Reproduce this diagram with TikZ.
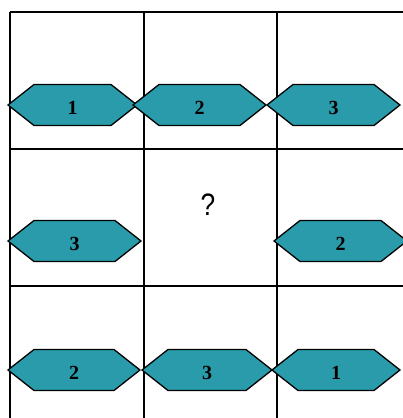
\documentclass[tikz,border=0pt]{standalone}
\usepackage{fontspec}
\setmainfont{Liberation Serif}
\newfontfamily\qfont{Liberation Sans}
\definecolor{hexfill}{RGB}{42,155,170}
\tikzset{
  gridline/.style={line width=2pt,black},
  hexbox/.style={draw=black,line width=1.3pt,fill=hexfill,line join=miter},
  digit/.style={inner sep=0pt,font=\fontsize{20}{20}\selectfont\bfseries},
}
\newcommand\hexcell[5]{%
  \draw[hexbox] (#2,#4) -- (#2+26,#4-20.5) -- (#3-26,#4-20.5) -- (#3,#4) -- (#3-26,#4+20.5) -- (#2+26,#4+20.5) -- cycle;
  \node[digit] (#1) at ({(#2+#3)/2},#4+2.5) {#5};}
\begin{document}
\begin{tikzpicture}[x=1pt,y=-1pt]
\useasboundingbox (0,0) rectangle (403,418);
% grid
\coordinate (v1t) at (10,12);  \coordinate (v1b) at (10,420);
\coordinate (v2t) at (144,12); \coordinate (v2b) at (144,420);
\coordinate (v3t) at (277,12); \coordinate (v3b) at (277,420);
\coordinate (h1l) at (10,12);  \coordinate (h1r) at (405,12);
\coordinate (h2l) at (10,149); \coordinate (h2r) at (405,149);
\coordinate (h3l) at (10,286); \coordinate (h3r) at (405,286);
\draw[gridline] (v1t) -- (v1b);
\draw[gridline] (v2t) -- (v2b);
\draw[gridline] (v3t) -- (v3b);
\draw[gridline] (h1l) -- (h1r);
\draw[gridline] (h2l) -- (h2r);
\draw[gridline] (h3l) -- (h3r);
% row 1
\hexcell{a}{8}{137}{105}{1}
\hexcell{b}{133}{266}{105}{2}
\hexcell{c}{267}{400}{105}{3}
% row 2
\hexcell{d}{8}{141}{241}{3}
\hexcell{e}{274}{407}{241}{2}
\node[inner sep=0pt,xscale=0.85,font=\qfont\fontsize{31}{31}\selectfont] (q) at (208,205) {?};
% row 3
\hexcell{f}{8}{140}{370}{2}
\hexcell{g}{142}{272}{370}{3}
\hexcell{h}{272}{400}{370}{1}
\end{tikzpicture}
\end{document}
